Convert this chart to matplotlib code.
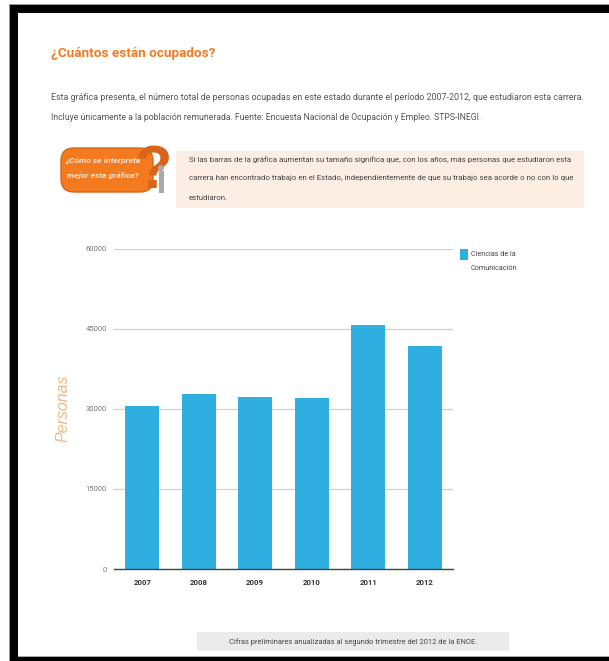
#!/usr/bin/env python3
"""Personas ocupadas 2007-2012, Ciencias de la Comunicacion."""

import matplotlib
matplotlib.use("Agg")
import matplotlib.pyplot as plt
from matplotlib.patches import Circle, FancyBboxPatch, Rectangle
from matplotlib.transforms import IdentityTransform

W, H = 609, 661

years = ["2007", "2008", "2009", "2010", "2011", "2012"]
personas = [30560, 32800, 32250, 32060, 45750, 41800]
y_ticks = [0, 15000, 30000, 45000, 60000]
series_label = "Ciencias de la\nComunicación"

title = "¿Cuántos están ocupados?"
intro = [
    "Esta gráfica presenta, el número total de personas ocupadas en este estado durante el período 2007-2012, que estudiaron esta carrera.",
    "Incluye únicamente a la población remunerada. Fuente: Encuesta Nacional de Ocupación y Empleo. STPS-INEGI.",
]
help_lines = [
    "Si las barras de la gráfica aumentan su tamaño significa que, con los años, más personas que estudiaron esta",
    "carrera han encontrado trabajo en el Estado, independientemente de que su trabajo sea acorde o no con lo que",
    "estudiaron.",
]
note = "Cifras preliminares anualizadas al segundo trimestre del 2012 de la ENOE."

BLUE = "#2FAEE0"
ORANGE = "#F47A20"
BODY_FONT = ["Roboto", "Liberation Sans", "DejaVu Sans"]

PIXELS = IdentityTransform()


def px_rect(fig, x0, y0, x1, y1, color, zorder=0):
    # page coordinates: origin top-left, y going down
    fig.add_artist(Rectangle((x0, H - y1), x1 - x0, y1 - y0, transform=PIXELS,
                             color=color, lw=0, zorder=zorder))


def px_text(fig, x, y, s, size, color="#555555", **kw):
    kw.setdefault("va", "center")
    kw.setdefault("family", BODY_FONT)
    fig.text(x / W, 1 - y / H, s, fontsize=size, color=color, **kw)


def draw_button(fig):
    fig.add_artist(FancyBboxPatch(
        (61, H - 192), 92, 44, boxstyle="round,pad=0,rounding_size=13",
        transform=PIXELS, fc=ORANGE, ec="#D9651A", lw=1, zorder=1))
    px_text(fig, 103, 161, "¿Cómo se interpreta", 6.1, color="#FFE3CC", ha="center",
            style="italic", weight="bold", zorder=4)
    px_text(fig, 103, 176, "mejor esta gráfica?", 6.1, color="#FFE3CC", ha="center",
            style="italic", weight="bold", zorder=4)
    px_text(fig, 153, 173, "?", 44, color="#D9651A", ha="center", weight="bold",
            family=["Liberation Sans", "DejaVu Sans"], zorder=2)
    # little grey figure leaning on the question mark
    fig.add_artist(Circle((161, H - 168), 3, transform=PIXELS, color="#A9A9A9", lw=0, zorder=3))
    px_rect(fig, 158.5, 171, 163.5, 193, "#A9A9A9", zorder=3)


def draw_page(fig):
    # black frame of the screenshot, no right side
    px_rect(fig, 9, 4, W, 5, "#999999")
    px_rect(fig, 9, 5, 10, H, "#999999")
    px_rect(fig, 10, 5, W, 13, "black")
    px_rect(fig, 10, 5, 18, H, "black")
    px_rect(fig, 18, 656, W, 657, "#aaaaaa")
    px_rect(fig, 10, 657, W, H, "black")

    px_text(fig, 51, 53, title, 9.7, color=ORANGE, weight="bold")
    px_text(fig, 51, 97, intro[0], 6.42)
    px_text(fig, 51, 118, intro[1], 6.23)

    # help box
    px_rect(fig, 176, 151, 584, 208, "#FCEEE2")
    for y, size, line in zip([160, 178, 198], [5.7, 5.65, 5.7], help_lines):
        px_text(fig, 189, y, line, size, color="#444444")

    draw_button(fig)

    # bottom note
    px_rect(fig, 197, 632, 509, 651, "#EBEBEB")
    px_text(fig, 353, 642, note, 5.4, color="#444444", ha="center")

    # legend
    px_rect(fig, 460, 249, 468, 260, BLUE)
    label_top, label_bottom = series_label.split("\n")
    px_text(fig, 471, 254, label_top, 5.2, color="#444444")
    px_text(fig, 471, 269, label_bottom, 5.2, color="#444444")

    # axis title
    px_text(fig, 63, 408, "Personas", 11.5, color="#F5B583", rotation=90, ha="center",
            style="italic", family=["Liberation Sans", "DejaVu Sans"])


def draw_chart(fig):
    ax = fig.add_axes([114 / W, 1 - 569 / H, (453 - 114) / W, (569 - 249) / H])
    ax.patch.set_alpha(0)
    ax.bar(range(len(years)), personas, width=0.6, color=BLUE, zorder=3)
    ax.set_xlim(-0.5, len(years) - 0.5)
    ax.set_ylim(0, 60000)
    ax.set_yticks(y_ticks)
    ax.set_yticklabels([str(v) for v in y_ticks], fontsize=5.5, color="#777777", family=BODY_FONT)
    ax.set_xticks(range(len(years)))
    ax.set_xticklabels(years, fontsize=5.6, color="#333333", family=BODY_FONT, weight="bold")
    ax.tick_params(axis="both", length=0)
    ax.tick_params(axis="y", pad=5)
    ax.tick_params(axis="x", pad=7.5)
    ax.grid(axis="y", color="#CDD1D5", lw=0.9, zorder=0)
    ax.set_axisbelow(True)
    for side in ["top", "left", "right"]:
        ax.spines[side].set_visible(False)
    ax.spines["bottom"].set_color("#444444")
    ax.spines["bottom"].set_linewidth(1.0)
    ax.spines["bottom"].set_zorder(4)


def main():
    fig = plt.figure(figsize=(W / 100, H / 100), dpi=100, facecolor="white")
    draw_page(fig)
    draw_chart(fig)
    fig.savefig("out.png", dpi=100)
    plt.close(fig)


if __name__ == "__main__":
    main()
